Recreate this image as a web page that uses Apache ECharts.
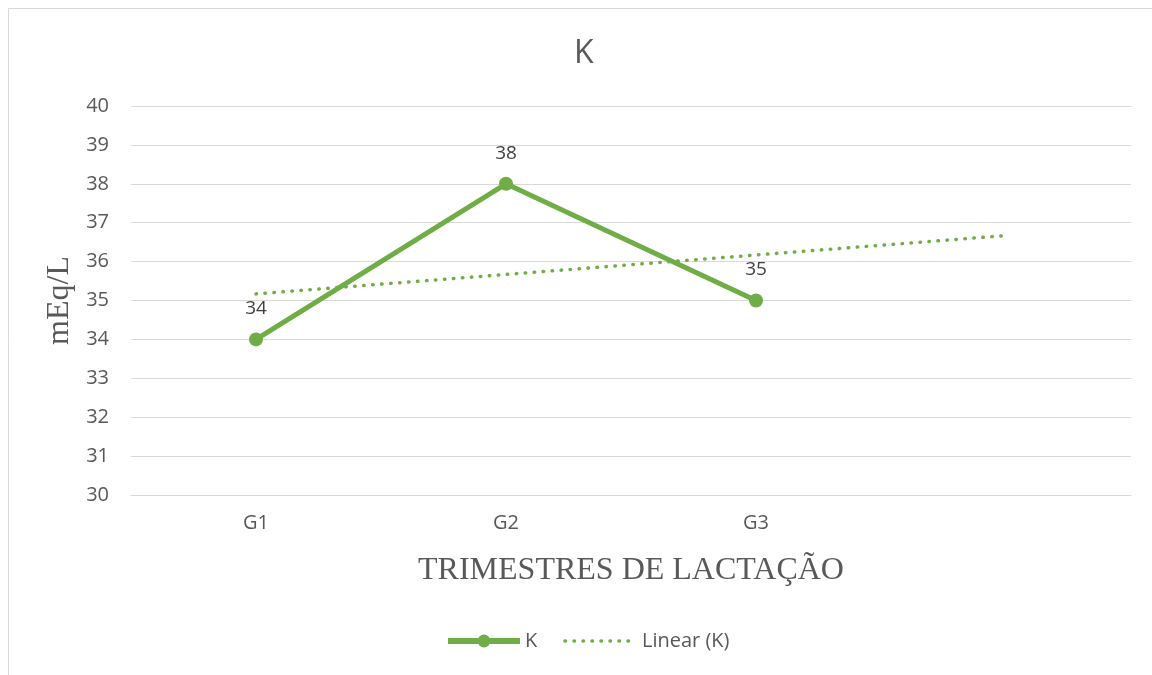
<!DOCTYPE html>
<html>
<head>
<meta charset="utf-8">
<script src="https://cdn.jsdelivr.net/npm/echarts@6/dist/echarts.min.js"></script>
<style>
  html, body { margin: 0; padding: 0; background: #fff; }
  #chart { width: 1152px; height: 675px; }
</style>
</head>
<body>
<div id="chart"></div>
<script>
// categorias (a quarta fica vazia: a linha de tendencia avança um periodo)
var grupos = ['G1', 'G2', 'G3', ''];
// valores de K (mEq/L)
var valoresK = [34, 38, 35, null];
// linha de tendencia
var tendenciaK = [35.17, 35.67, 36.17, 36.67];

var verde = '#70ad47';
var cinza = '#595959';
var fonte = 'Open Sans';
var pontilhado = [0.5, 8.5];

var myChart = echarts.init(document.getElementById('chart'));
myChart.setOption({
  backgroundColor: '#fff',
  animation: false,
  graphic: [{
    type: 'rect',
    shape: { x: 8.5, y: 8.5, width: 1200, height: 700 },
    style: { fill: 'none', stroke: '#d9d9d9', lineWidth: 1 },
    silent: true
  }],
  title: {
    text: 'K',
    left: 569,
    top: 33,
    textStyle: { fontFamily: fonte, fontSize: 32, fontWeight: 'normal', color: cinza }
  },
  legend: {
    bottom: 24,
    left: 445,
    padding: 0,
    itemWidth: 72,
    itemHeight: 16,
    itemGap: 26,
    textStyle: { fontFamily: fonte, fontSize: 20, color: cinza },
    data: [
      { name: 'K', lineStyle: { width: 6, color: verde }, itemStyle: { color: verde } },
      { name: 'Linear (K)', lineStyle: { width: 3.5, color: verde, type: pontilhado, cap: 'round' }, itemStyle: { opacity: 0 } }
    ]
  },
  grid: { left: 131, right: 21, top: 106, bottom: 180, containLabel: false },
  xAxis: {
    type: 'category',
    data: grupos,
    boundaryGap: true,
    name: 'TRIMESTRES DE LACTAÇÃO',
    nameLocation: 'middle',
    nameGap: 60,
    nameTextStyle: { fontFamily: 'Liberation Serif', fontSize: 32, color: cinza },
    axisLine: { show: true, lineStyle: { color: '#d9d9d9', width: 1 } },
    axisTick: { show: false },
    axisLabel: { fontFamily: fonte, fontSize: 20, color: cinza, margin: 18 }
  },
  yAxis: {
    type: 'value',
    min: 30,
    max: 40,
    interval: 1,
    name: 'mEq/L',
    nameLocation: 'middle',
    nameGap: 55,
    nameTextStyle: { fontFamily: 'Liberation Serif', fontSize: 32, color: cinza },
    axisLine: { show: false },
    axisTick: { show: false },
    axisLabel: { fontFamily: fonte, fontSize: 20, color: cinza, margin: 22 },
    splitLine: { lineStyle: { color: '#d9d9d9', width: 1 } }
  },
  series: [
    {
      name: 'K',
      type: 'line',
      data: valoresK,
      symbol: 'circle',
      symbolSize: 14,
      itemStyle: { color: verde },
      lineStyle: { color: verde, width: 5 },
      label: {
        show: true,
        position: 'top',
        distance: 14,
        fontFamily: fonte,
        fontSize: 19,
        color: '#404040'
      },
      z: 3
    },
    {
      name: 'Linear (K)',
      type: 'line',
      data: tendenciaK,
      symbol: 'none',
      itemStyle: { color: verde },
      lineStyle: { color: verde, width: 3.5, type: pontilhado, cap: 'round' },
      z: 2
    }
  ]
});
</script>
</body>
</html>
